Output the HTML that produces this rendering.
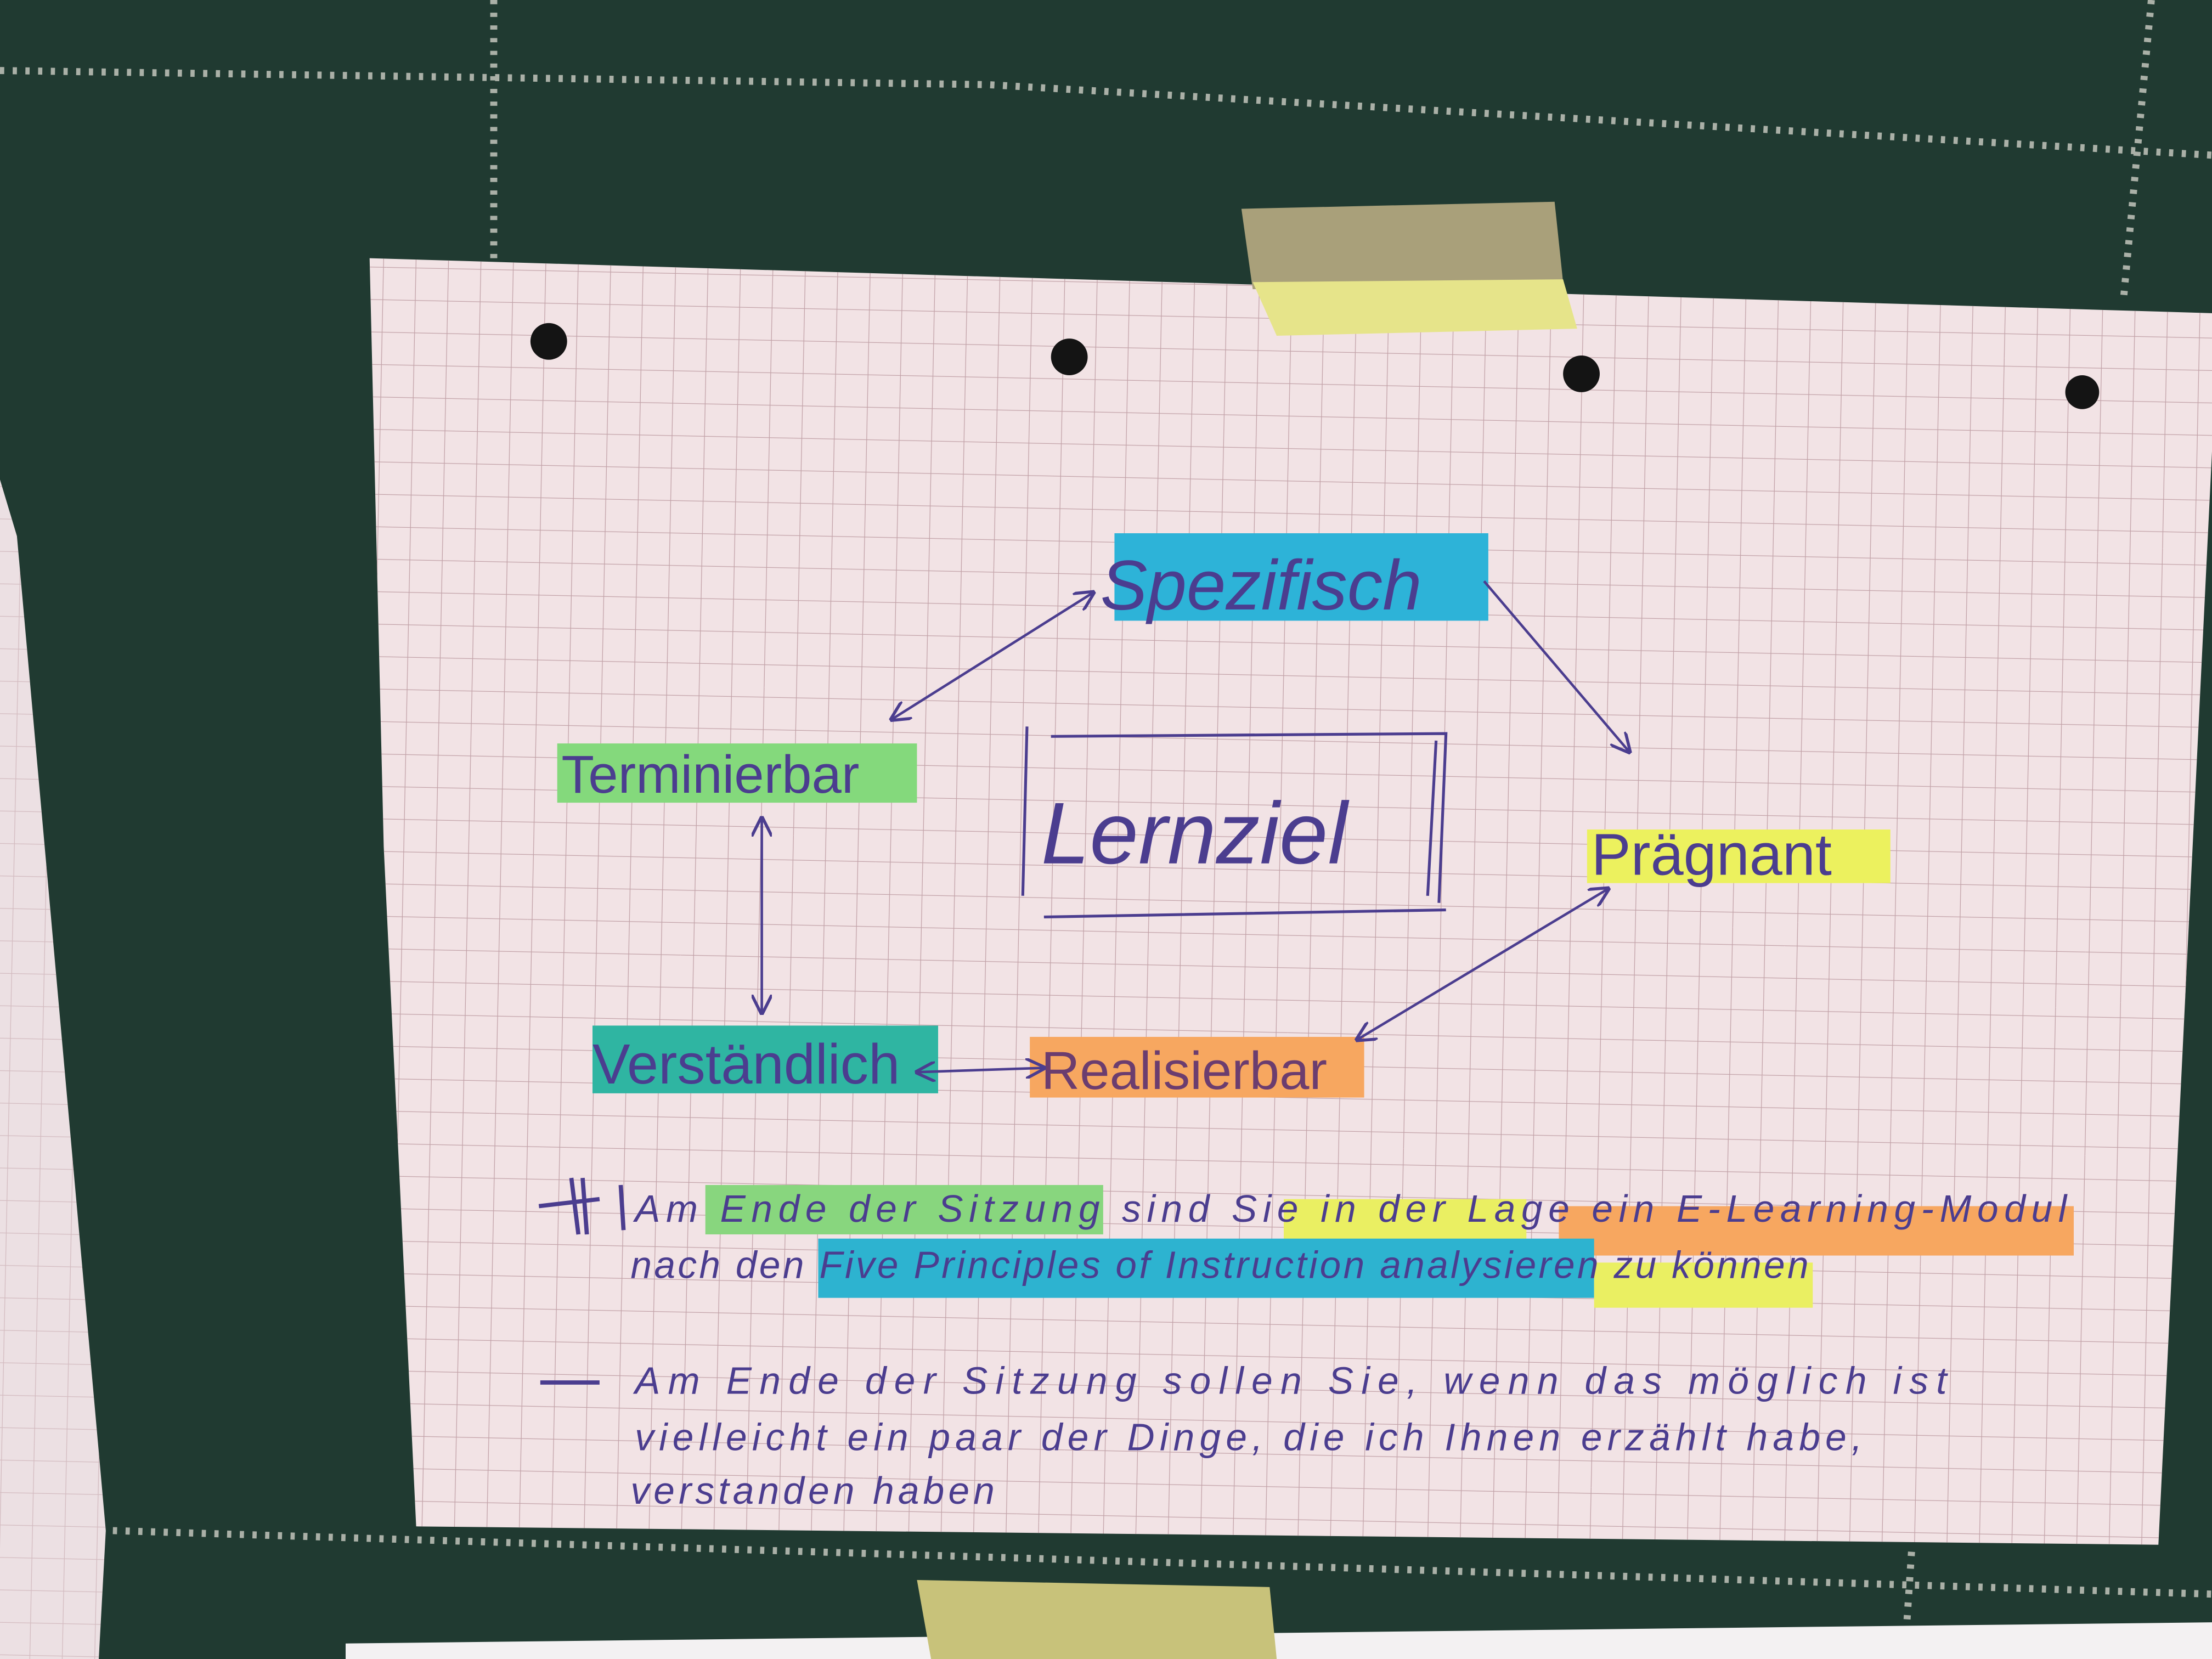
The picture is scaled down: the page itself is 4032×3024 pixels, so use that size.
<!DOCTYPE html>
<html><head><meta charset="utf-8"><style>
html,body{margin:0;padding:0;background:#203a31;}
svg{display:block}
text{font-family:"Liberation Sans",sans-serif;fill:#4b3d8f}
</style></head><body>
<svg width="4032" height="3024" viewBox="0 0 1568 1176" xmlns="http://www.w3.org/2000/svg">
<defs>
<pattern id="g" width="23" height="23" patternUnits="userSpaceOnUse" patternTransform="rotate(1.2)">
<path d="M23 0V23H0" fill="none" stroke="#c2a2a8" stroke-width="1"/>
</pattern>
<clipPath id="pc"><polygon points="262,183 1568,222 1568,320 1530,1095 295,1082 272,600"/></clipPath>
<marker id="a" viewBox="0 0 10 10" refX="9" refY="5" markerWidth="8" markerHeight="8" orient="auto-start-reverse"><path d="M0,0L10,5L0,10" fill="none" stroke="#4b3d8f" stroke-width="1.5"/></marker>
</defs>
<rect width="1568" height="1176" fill="#203a31"/>
<g stroke="#d8d8cf" stroke-width="5" stroke-dasharray="3 6" fill="none" opacity="0.75">
<path d="M0,50 L700,60 L1568,110"/>
<path d="M350,0 L350,185"/>
<path d="M1525,0 L1505,215"/>
<path d="M80,1085 L1568,1130"/>
<path d="M1355,1100 L1350,1176"/>
</g>
<polygon points="0,340 12,380 75,1085 70,1176 0,1176" fill="#ece0e3"/>
<polygon points="0,340 12,380 75,1085 70,1176 0,1176" fill="url(#g)" opacity="0.6"/>
<polygon points="245,1165 1568,1150 1568,1176 245,1176" fill="#f3f1f2"/>
<polygon points="650,1120 900,1125 905,1176 660,1176" fill="#c8c27a"/>
<polygon points="262,183 1568,222 1568,320 1530,1095 295,1082 272,600" fill="#f2e3e5"/>
<rect x="250" y="170" width="1330" height="940" fill="url(#g)" clip-path="url(#pc)"/>
<polygon points="880,148 1102,143 1108,200 888,205" fill="#a9a07a"/>
<polygon points="888,200 1108,198 1118,233 905,238" fill="#e6e48a"/>
<g fill="#141414"><circle cx="389" cy="242" r="13"/><circle cx="758" cy="253" r="13"/><circle cx="1121" cy="265" r="13"/><circle cx="1476" cy="278" r="12"/></g>
<rect x="790" y="378" width="265" height="62" fill="#2db3d8"/>
<rect x="395" y="527" width="255" height="42" fill="#84d97c"/>
<rect x="1125" y="588" width="215" height="38" fill="#ecf15e"/>
<rect x="420" y="727" width="245" height="48" fill="#2fb5a2"/>
<rect x="730" y="735" width="237" height="43" fill="#f7a760"/>
<rect x="500" y="840" width="282" height="35" fill="#88d67e"/>
<rect x="910" y="850" width="172" height="35" fill="#eaef62"/>
<rect x="1105" y="855" width="365" height="35" fill="#f7a760"/>
<rect x="580" y="878" width="550" height="42" fill="#2db3d0"/>
<rect x="1130" y="895" width="155" height="32" fill="#eaef62"/>
<g stroke="#4b3d8f" stroke-width="2" fill="none">
<path d="M745,522 L1025,520 L1020,640 M740,650 L1025,645 M728,515 L725,635 M1018,525 L1012,635"/>
</g>
<text x="738" y="612" font-size="62" font-style="italic">Lernziel</text>
<text x="780" y="432" font-size="50" font-style="italic">Spezifisch</text>
<text x="398" y="562" font-size="38">Terminierbar</text>
<text x="1128" y="620" font-size="42">Prägnant</text>
<text x="420" y="768" font-size="40">Verständlich</text>
<text x="738" y="772" font-size="38" style="fill:#6b3d6f">Realisierbar</text>
<g stroke="#4b3d8f" stroke-width="1.8" fill="none">
<line x1="775" y1="420" x2="632" y2="510" marker-start="url(#a)" marker-end="url(#a)"/>
<line x1="1052" y1="412" x2="1155" y2="533" marker-end="url(#a)"/>
<line x1="540" y1="580" x2="540" y2="718" marker-start="url(#a)" marker-end="url(#a)"/>
<line x1="650" y1="760" x2="740" y2="757" marker-start="url(#a)" marker-end="url(#a)"/>
<line x1="1140" y1="630" x2="962" y2="737" marker-start="url(#a)" marker-end="url(#a)"/>
<path d="M382,855 L425,850 M405,835 L410,875 M413,835 L416,875 M440,840 L442,872" stroke-width="3"/>
<line x1="383" y1="980" x2="425" y2="980" stroke-width="3"/>
</g>
<g font-size="27" font-style="italic">
<text x="450" y="866" textLength="1015">Am Ende der Sitzung sind Sie in der Lage ein E-Learning-Modul</text>
<text x="447" y="906" textLength="835">nach den Five Principles of Instruction analysieren zu können</text>
<text x="450" y="988" textLength="930">Am Ende der Sitzung sollen Sie, wenn das möglich ist</text>
<text x="450" y="1028" textLength="870">vielleicht ein paar der Dinge, die ich Ihnen erzählt habe,</text>
<text x="447" y="1066" textLength="258">verstanden haben</text>
</g>
</svg>
</body></html>
